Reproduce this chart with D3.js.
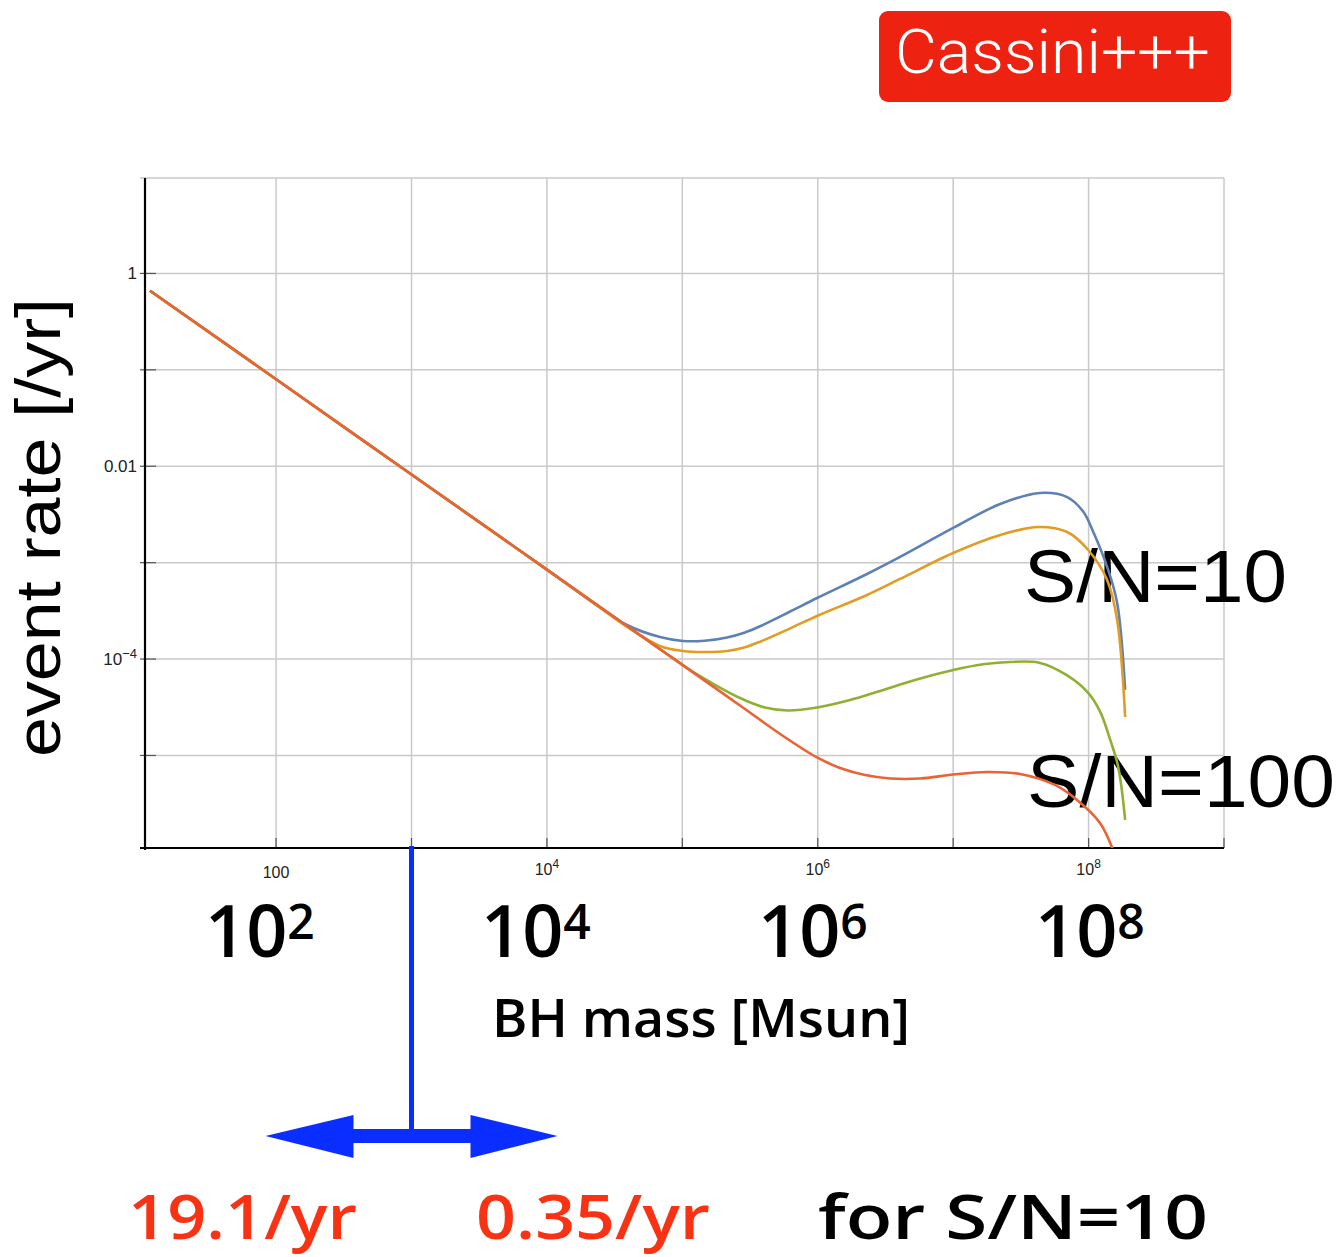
<!DOCTYPE html>
<html>
<head>
<meta charset="utf-8">
<script src="https://cdn.jsdelivr.net/npm/d3@7"></script>
<style>
  body { margin: 0; background: #fff; }
  svg { display: block; }
</style>
</head>
<body>
<svg id="chart" width="1342" height="1257"></svg>
<script>
// Event-rate curves, stored as [log10(BH mass / Msun), log10(rate / yr)]
const curveSN10a = [ // blue
  [1.069, -0.179], [2, -1.098], [3, -2.086], [4, -3.072], [4.414, -3.488],
  [4.591, -3.647], [4.835, -3.772], [5.005, -3.813], [5.166, -3.81], [5.33, -3.776],
  [5.463, -3.724], [5.574, -3.66], [5.796, -3.507], [5.995, -3.367], [6.364, -3.118],
  [6.608, -2.941], [7.0, -2.64], [7.347, -2.392], [7.642, -2.277], [7.842, -2.32],
  [7.96, -2.47], [8.034, -2.68], [8.137, -3.044], [8.211, -3.418], [8.27, -4.32]
];
const curveSN10b = [ // orange
  [1.069, -0.179], [2, -1.098], [3, -2.086], [4, -3.072], [4.414, -3.488],
  [4.591, -3.665], [4.835, -3.864], [5.005, -3.916], [5.152, -3.927], [5.33, -3.917],
  [5.463, -3.878], [5.574, -3.82], [5.796, -3.682], [5.995, -3.553], [6.364, -3.335],
  [6.608, -3.169], [7.0, -2.9], [7.347, -2.713], [7.628, -2.63], [7.842, -2.682],
  [7.997, -2.869], [8.137, -3.18], [8.211, -3.595], [8.27, -4.601]
];
const curveSN100a = [ // green
  [1.069, -0.179], [2, -1.098], [3, -2.086], [4, -3.072], [4.5, -3.568],
  [4.9, -3.96], [5.079, -4.134], [5.204, -4.238], [5.426, -4.404], [5.61, -4.503],
  [5.78, -4.534], [5.995, -4.503], [6.238, -4.425], [6.46, -4.331], [6.718, -4.217],
  [7.0, -4.113], [7.236, -4.051], [7.42, -4.03], [7.642, -4.04], [7.842, -4.17],
  [7.997, -4.351], [8.086, -4.548], [8.16, -4.839], [8.219, -5.119], [8.27, -5.669]
];
const curveSN100b = [ // red
  [1.069, -0.179], [2, -1.098], [3, -2.086], [4, -3.072], [5, -4.06],
  [5.426, -4.482], [5.744, -4.798], [5.995, -5.021], [6.165, -5.13], [6.35, -5.203],
  [6.535, -5.239], [6.756, -5.239], [7.0, -5.198], [7.251, -5.172], [7.494, -5.192],
  [7.752, -5.306], [7.915, -5.462], [8.084, -5.70], [8.18, -5.98], [8.217, -6.17]
];

const series = [
  { name: "blue", color: "#5e81b5", values: curveSN10a },
  { name: "orange", color: "#e19c24", values: curveSN10b },
  { name: "green", color: "#8fb032", values: curveSN100a },
  { name: "red", color: "#eb6235", values: curveSN100b }
];

// Axis ticks
const xGridExponents = [2, 3, 4, 5, 6, 7, 8, 9];
const yGridExponents = [-5, -4, -3, -2, -1, 0];
const xTickLabels = [
  { exp: 2, base: "100", sup: "" },
  { exp: 4, base: "10", sup: "4" },
  { exp: 6, base: "10", sup: "6" },
  { exp: 8, base: "10", sup: "8" }
];
const yTickLabels = [
  { exp: 0, base: "1", sup: "" },
  { exp: -2, base: "0.01", sup: "" },
  { exp: -4, base: "10", sup: "\u22124" }
];
const bigXLabels = ["2", "4", "6", "8"];
const rateLabels = ["19.1/yr", "0.35/yr"];

const svg = d3.select("#chart");
const plot = { left: 145, right: 1224, top: 178, bottom: 848 };

const x = d3.scaleLog().domain([Math.pow(10, 1.032), 1e9]).range([plot.left, plot.right]);
const y = d3.scaleLog().domain([Math.pow(10, -5.96), Math.pow(10, 0.99)]).range([plot.bottom, plot.top]);

const sansFont = "'Liberation Sans', Arial, Helvetica, sans-serif";
const roundFont = "'Open Sans', 'Noto Sans', sans-serif";

// Grid
const grid = svg.append("g").attr("stroke", "#c9c9c9").attr("stroke-width", 1.5);
xGridExponents.forEach(e => {
  grid.append("line")
    .attr("x1", x(Math.pow(10, e))).attr("x2", x(Math.pow(10, e)))
    .attr("y1", plot.top).attr("y2", plot.bottom);
});
yGridExponents.forEach(e => {
  grid.append("line")
    .attr("x1", plot.left).attr("x2", plot.right)
    .attr("y1", y(Math.pow(10, e))).attr("y2", y(Math.pow(10, e)));
});
grid.append("line")
  .attr("x1", plot.left - 5).attr("x2", plot.right)
  .attr("y1", plot.top).attr("y2", plot.top);

// Ticks
const ticks = svg.append("g").attr("stroke", "#555").attr("stroke-width", 1.2);
yGridExponents.forEach(e => {
  ticks.append("line")
    .attr("x1", plot.left - 5).attr("x2", plot.left + 11)
    .attr("y1", y(Math.pow(10, e))).attr("y2", y(Math.pow(10, e)));
});
xGridExponents.forEach(e => {
  ticks.append("line")
    .attr("x1", x(Math.pow(10, e))).attr("x2", x(Math.pow(10, e)))
    .attr("y1", plot.bottom - 10).attr("y2", plot.bottom);
});

// Axis lines
svg.append("line")
  .attr("x1", plot.left).attr("x2", plot.left)
  .attr("y1", plot.top).attr("y2", plot.bottom + 2)
  .attr("stroke", "#000").attr("stroke-width", 2.2);
svg.append("line")
  .attr("x1", plot.left - 5).attr("x2", plot.right)
  .attr("y1", plot.bottom).attr("y2", plot.bottom)
  .attr("stroke", "#000").attr("stroke-width", 2.2);

// Tick labels
yTickLabels.forEach(t => {
  const txt = svg.append("text")
    .attr("x", plot.left - 8)
    .attr("y", y(Math.pow(10, t.exp)) + 6)
    .attr("text-anchor", "end")
    .attr("font-family", sansFont)
    .attr("font-size", 17)
    .attr("fill", "#222");
  txt.append("tspan").text(t.base);
  if (t.sup) txt.append("tspan").attr("dy", -7).attr("font-size", 13).text(t.sup);
});
xTickLabels.forEach(t => {
  const txt = svg.append("text")
    .attr("x", x(Math.pow(10, t.exp)))
    .attr("y", t.sup ? 875 : 878)
    .attr("text-anchor", "middle")
    .attr("font-family", sansFont)
    .attr("font-size", 16)
    .attr("fill", "#222");
  txt.append("tspan").text(t.base);
  if (t.sup) txt.append("tspan").attr("dy", -7).attr("font-size", 12).text(t.sup);
});

// Large decade labels under the axis
const bigLabelX = [205, 481, 758, 1035];
bigXLabels.forEach((s, i) => {
  const txt = svg.append("text")
    .attr("x", bigLabelX[i]).attr("y", 957)
    .attr("font-family", roundFont)
    .attr("font-weight", 600)
    .attr("font-size", 72)
    .attr("fill", "#000");
  txt.append("tspan").text("10");
  txt.append("tspan").attr("dy", -18).attr("font-size", 48).text(s);
});

// Axis titles
svg.append("text")
  .attr("x", 492).attr("y", 1037)
  .attr("font-family", roundFont)
  .attr("font-weight", 600)
  .attr("font-size", 52)
  .attr("textLength", 418)
  .attr("lengthAdjust", "spacingAndGlyphs")
  .attr("fill", "#000")
  .text("BH mass [Msun]");
svg.append("text")
  .attr("transform", "translate(60,757) rotate(-90)")
  .attr("font-family", sansFont)
  .attr("font-size", 63)
  .attr("textLength", 459)
  .attr("lengthAdjust", "spacingAndGlyphs")
  .attr("fill", "#000")
  .text("event rate [/yr]");

// S/N annotations
svg.append("text")
  .attr("x", 1024).attr("y", 602)
  .attr("font-family", sansFont)
  .attr("font-size", 74)
  .attr("textLength", 263)
  .attr("lengthAdjust", "spacingAndGlyphs")
  .attr("fill", "#000")
  .text("S/N=10");
svg.append("text")
  .attr("x", 1027).attr("y", 807)
  .attr("font-family", sansFont)
  .attr("font-size", 74)
  .attr("textLength", 308)
  .attr("lengthAdjust", "spacingAndGlyphs")
  .attr("fill", "#000")
  .text("S/N=100");

// Curves
const clip = svg.append("clipPath").attr("id", "plot-clip");
clip.append("rect")
  .attr("x", plot.left).attr("y", plot.top)
  .attr("width", plot.right - plot.left).attr("height", plot.bottom - plot.top);

const line = d3.line()
  .x(d => x(Math.pow(10, d[0])))
  .y(d => y(Math.pow(10, d[1])))
  .curve(d3.curveCatmullRom.alpha(0.5));

svg.append("g").attr("clip-path", "url(#plot-clip)")
  .selectAll("path")
  .data(series)
  .join("path")
  .attr("d", d => line(d.values))
  .attr("fill", "none")
  .attr("stroke", d => d.color)
  .attr("stroke-width", 2.6)
  .attr("stroke-linejoin", "round");

// Badge
svg.append("rect")
  .attr("x", 879).attr("y", 11)
  .attr("width", 352).attr("height", 91)
  .attr("rx", 9)
  .attr("fill", "#ee2211");
svg.append("text")
  .attr("x", 895).attr("y", 73)
  .attr("font-family", "Roboto, 'Liberation Sans', sans-serif")
  .attr("font-weight", 300)
  .attr("font-size", 61)
  .attr("textLength", 315)
  .attr("lengthAdjust", "spacingAndGlyphs")
  .attr("fill", "#fff")
  .text("Cassini+++");

// Mass marker at 10^3 Msun with a double-headed arrow
const blue = "#0a2eff";
const mx = x(1e3);
svg.append("line")
  .attr("x1", mx).attr("x2", mx)
  .attr("y1", plot.bottom - 2).attr("y2", 1134)
  .attr("stroke", blue).attr("stroke-width", 5);
svg.append("rect")
  .attr("x", mx - 60).attr("y", 1129)
  .attr("width", 120).attr("height", 14)
  .attr("fill", blue);
svg.append("path")
  .attr("d", `M${mx - 146},1136 L${mx - 58},1115 L${mx - 58},1158 Z`)
  .attr("fill", blue);
svg.append("path")
  .attr("d", `M${mx + 146},1136 L${mx + 59},1115 L${mx + 59},1158 Z`)
  .attr("fill", blue);

// Rate annotations
const rateX = [128, 476];
const rateW = [229, 234];
rateLabels.forEach((s, i) => {
  svg.append("text")
    .attr("x", rateX[i]).attr("y", 1239)
    .attr("font-family", roundFont)
    .attr("font-weight", 600)
    .attr("font-size", 61)
    .attr("textLength", rateW[i])
    .attr("lengthAdjust", "spacingAndGlyphs")
    .attr("fill", "#fa3214")
    .text(s);
});
svg.append("text")
  .attr("x", 818).attr("y", 1239)
  .attr("font-family", roundFont)
  .attr("font-weight", 600)
  .attr("font-size", 61)
  .attr("textLength", 390)
  .attr("lengthAdjust", "spacingAndGlyphs")
  .attr("fill", "#000")
  .text("for S/N=10");
</script>
</body>
</html>
